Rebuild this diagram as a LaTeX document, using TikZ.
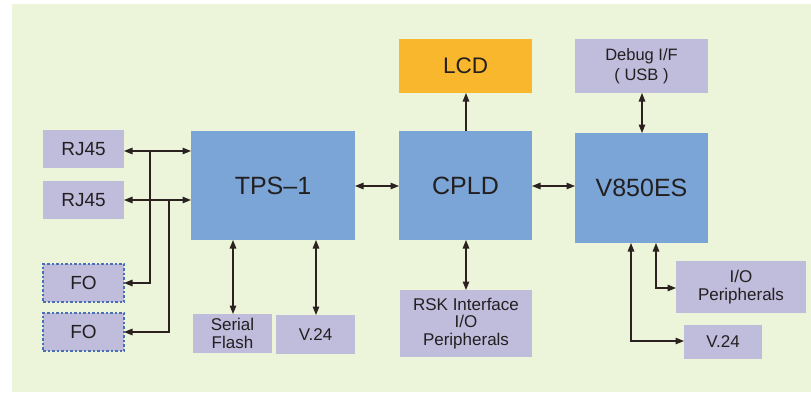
\documentclass[tikz,border=0pt]{standalone}
\usepackage{fontspec}
\setmainfont{Liberation Sans}
\usetikzlibrary{arrows.meta}
\definecolor{bg}{HTML}{ECF4DA}
\definecolor{bluebox}{HTML}{7BA5D6}
\definecolor{lavbox}{HTML}{C0BCDC}
\definecolor{orangebox}{HTML}{F8B72C}
\definecolor{linec}{HTML}{2B2220}
\definecolor{txt}{HTML}{231F20}
\definecolor{dashblue}{HTML}{4A6FB5}
\tikzset{
  base/.style={anchor=north west, inner sep=0pt, outer sep=0pt, text=txt, align=center},
  bigbox/.style={base, fill=bluebox, font=\fontsize{25}{29}\selectfont},
  lav/.style={base, fill=lavbox, font=\fontsize{17}{17.8}\selectfont},
  lavbig/.style={base, fill=lavbox, font=\fontsize{19}{21}\selectfont},
  fobox/.style={lavbig, draw=dashblue, dash pattern=on 2.5pt off 2pt, line width=1.1pt},
  lcdbox/.style={base, fill=orangebox, font=\fontsize{22.5}{26}\selectfont},
  conn/.style={draw=linec, line width=1.3pt, arrows={-}},
}
\begin{document}
\begin{tikzpicture}[x=1pt,y=-1pt]
\useasboundingbox (0,0) rectangle (811,392);
\fill[white] (0,0) rectangle (811,392);
\fill[bg] (12,4) rectangle (811,392);
% boxes
\node[lavbig, minimum width=81pt, minimum height=38pt] (rj1) at (43,130) {RJ45};
\node[lavbig, minimum width=81pt, minimum height=38pt] (rj2) at (43,181) {RJ45};
\node[fobox, minimum width=81pt, minimum height=38pt] (fo1) at (43,264) {FO};
\node[fobox, minimum width=81pt, minimum height=38pt] (fo2) at (43,313) {FO};
\node[bigbox, minimum width=164pt, minimum height=109pt] (tps) at (191,131) {TPS–1};
\node[bigbox, minimum width=133pt, minimum height=109pt] (cpld) at (399,131) {CPLD};
\node[bigbox, minimum width=133pt, minimum height=110pt] (v850) at (575,133) {V850ES};
\node[lcdbox, minimum width=133pt, minimum height=54pt] (lcd) at (399,39) {LCD};
\node[lav, minimum width=133pt, minimum height=54pt, font=\fontsize{16.5}{20}\selectfont] (dbg) at (575,39) {Debug I/F\\( USB )};
\node[lav, minimum width=132pt, minimum height=67pt] (rsk) at (400,290) {RSK Interface\\I/O\\Peripherals};
\node[lav, minimum width=79pt, minimum height=39pt] (sf) at (193,314) {Serial\\Flash};
\node[lav, minimum width=79pt, minimum height=39pt] (v24a) at (276,315) {V.24};
\node[lav, minimum width=130pt, minimum height=52pt] (io) at (676,261) {I/O\\Peripherals};
\node[lav, minimum width=78pt, minimum height=34pt] (v24b) at (684,325) {V.24};
% coordinates
\coordinate (j1) at (150,151);
\coordinate (j2) at (169,200);
\coordinate (tc) at (355,186);
\coordinate (cl) at (399,186);
\coordinate (cr) at (532,186);
\coordinate (vl) at (575,186);
% connectors
\draw[conn, {Triangle[length=8.5pt,width=6.5pt]}-{Triangle[length=8.5pt,width=6.5pt]}] (rj1.east |- j1) -- (tps.west |- j1);
\draw[conn, {Triangle[length=8.5pt,width=6.5pt]}-{Triangle[length=8.5pt,width=6.5pt]}] (rj2.east |- j2) -- (tps.west |- j2);
\draw[conn, -{Triangle[length=8.5pt,width=6.5pt]}] (j1) |- (fo1.east);
\draw[conn, -{Triangle[length=8.5pt,width=6.5pt]}] (j2) |- (fo2.east);
\draw[conn, {Triangle[length=8.5pt,width=6.5pt]}-{Triangle[length=8.5pt,width=6.5pt]}] (tc) -- (cl);
\draw[conn, {Triangle[length=8.5pt,width=6.5pt]}-{Triangle[length=8.5pt,width=6.5pt]}] (cr) -- (vl);
\draw[conn, -{Triangle[length=8.5pt,width=6.5pt]}] (cpld.north -| 466,0) -- (lcd.south -| 466,0);
\draw[conn, {Triangle[length=8.5pt,width=6.5pt]}-{Triangle[length=8.5pt,width=6.5pt]}] (cpld.south -| 466,0) -- (rsk.north -| 466,0);
\draw[conn, {Triangle[length=8.5pt,width=6.5pt]}-{Triangle[length=8.5pt,width=6.5pt]}] (v850.north -| 642,0) -- (dbg.south -| 642,0);
\draw[conn, {Triangle[length=8.5pt,width=6.5pt]}-{Triangle[length=8.5pt,width=6.5pt]}] (tps.south -| 233,0) -- (sf.north -| 233,0);
\draw[conn, {Triangle[length=8.5pt,width=6.5pt]}-{Triangle[length=8.5pt,width=6.5pt]}] (tps.south -| 316,0) -- (v24a.north -| 316,0);
\draw[conn, {Triangle[length=8.5pt,width=6.5pt]}-{Triangle[length=8.5pt,width=6.5pt]}] (v850.south -| 656,0) |- (io.west |- 0,288);
\draw[conn, {Triangle[length=8.5pt,width=6.5pt]}-{Triangle[length=8.5pt,width=6.5pt]}] (v850.south -| 631,0) |- (v24b.west |- 0,341);
\end{tikzpicture}
\end{document}
